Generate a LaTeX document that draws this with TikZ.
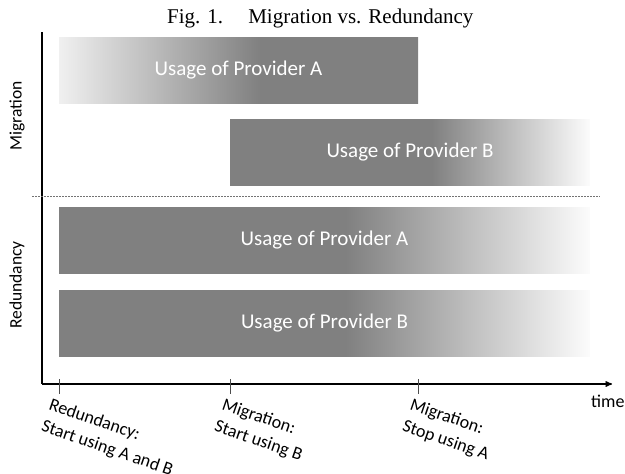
\documentclass[tikz,border=0pt]{standalone}
\usepackage{fontspec}
\setmainfont{Liberation Serif}
\newfontfamily\calibri{Carlito}
\usetikzlibrary{arrows}

\definecolor{usagegray}{RGB}{128,128,128}
\definecolor{fadelight}{RGB}{240,240,240}
\definecolor{fadewhite}{RGB}{252,252,252}

% 25bp = left edge of the bar, 75bp = right edge
\pgfdeclarehorizontalshading{fadein}{100bp}{color(0bp)=(fadelight); color(25bp)=(fadelight); color(53bp)=(usagegray); color(100bp)=(usagegray)}
\pgfdeclarehorizontalshading{fadeoutB}{100bp}{color(0bp)=(usagegray); color(53bp)=(usagegray); color(75bp)=(fadewhite); color(100bp)=(fadewhite)}
\pgfdeclarehorizontalshading{fadeoutR}{100bp}{color(0bp)=(usagegray); color(52bp)=(usagegray); color(75bp)=(fadewhite); color(100bp)=(fadewhite)}

\tikzset{
  usage/.style={minimum height=66pt, inner sep=0pt, text=white, font=\calibri\fontsize{21}{24}\selectfont},
  axislabel/.style={font=\calibri\fontsize{17.5}{21}\selectfont, rotate=90},
  eventlabel/.style={font=\calibri\fontsize{18}{23}\selectfont, rotate=-19, anchor=north west, align=left, inner sep=0pt},
  timetick/.style={line width=0.5pt, black!70}
}

\begin{document}
\begin{tikzpicture}[x=1pt,y=-1pt]
  \useasboundingbox (0,0) rectangle (625,474);
  \node[anchor=base east, font=\fontsize{21}{24}\selectfont] (title) at (477,23) {Fig. 1.\hspace{1.2em}Migration vs. Redundancy};

  % bars
  \node[usage, minimum width=359pt, shading=fadein] (migA) at (238.5,70) {Usage of Provider A};
  \node[usage, minimum width=360pt, shading=fadeoutB] (migB) at (410,152.5) {Usage of Provider B};
  \node[usage, minimum width=531pt, shading=fadeoutR] (redA) at (324.5,240.5) {Usage of Provider A};
  \node[usage, minimum width=531pt, shading=fadeoutR] (redB) at (324.5,323) {Usage of Provider B};

  % axes
  \coordinate (top) at (42,32);
  \coordinate (origin) at (42,384);
  \coordinate (tend) at (612,384);
  \coordinate (sepL) at (32,196);
  \coordinate (sepR) at (600,196);
  \draw[line width=1.3pt] (top) -- (origin);
  \draw[line width=1.3pt,->,>=stealth'] (origin) -- (tend);
  \draw[black!55, line width=1pt, dash pattern=on 1.5pt off 1.5pt] (sepL) -- (sepR);

  \node[axislabel] (mig) at (17,116) {Migration};
  \node[axislabel] (red) at (17,285) {Redundancy};
  \node[font=\calibri\fontsize{18}{21}\selectfont, anchor=west, inner sep=0pt] (time) at (591,401) {time};

  % events on the time axis
  \foreach \t/\x in {t1/59, t2/230, t3/418} {
    \coordinate (\t a) at (\x,379);
    \coordinate (\t) at (\x,394);
    \draw[timetick] (\t a) -- (\t);
  }
  \node[eventlabel] (evRed) at ([xshift=-7pt,yshift=-3pt]t1) {Redundancy:\\Start using A and B};
  \node[eventlabel] (evMigB) at ([xshift=-5pt,yshift=-3pt]t2) {Migration:\\Start using B};
  \node[eventlabel] (evMigA) at ([xshift=-5pt,yshift=-3pt]t3) {Migration:\\Stop using A};
\end{tikzpicture}
\end{document}
